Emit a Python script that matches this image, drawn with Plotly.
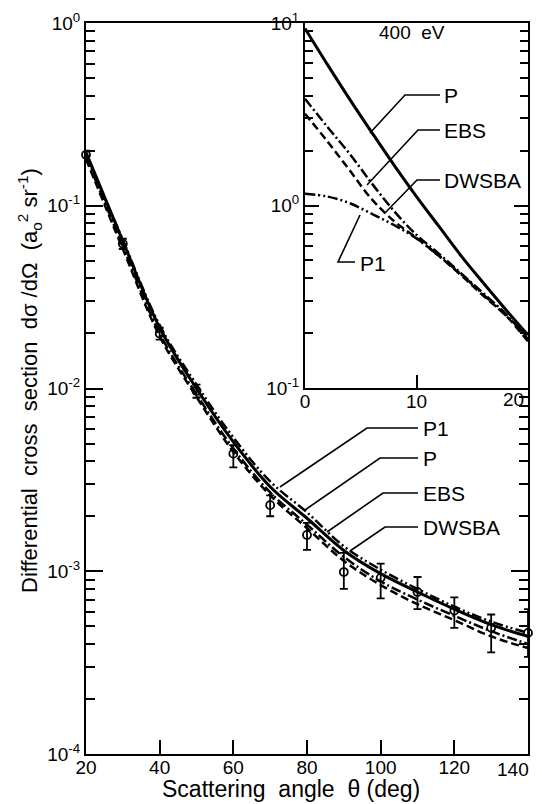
import plotly.graph_objects as go

# ---------------- data ----------------
theta = [20, 30, 40, 50, 60, 70, 80, 90, 100, 110, 120, 130, 140]
P_main = [0.196, 0.064, 0.0215, 0.0100, 0.0051, 0.0029, 0.00195, 0.00130, 0.00097, 0.00077, 0.00062, 0.00051, 0.00044]
P1_main = [0.190, 0.065, 0.0222, 0.0105, 0.0054, 0.0031, 0.00210, 0.00137, 0.00102, 0.00080, 0.00064, 0.00053, 0.00046]
DWSBA_main = [0.185, 0.060, 0.0200, 0.0093, 0.0047, 0.0027, 0.00180, 0.00120, 0.00088, 0.00070, 0.00057, 0.00047, 0.00040]
EBS_main = [0.180, 0.058, 0.0193, 0.0090, 0.0045, 0.0026, 0.00172, 0.00114, 0.00084, 0.00066, 0.00054, 0.00044, 0.00038]

exp_theta = [20, 30, 40, 50, 60, 70, 80, 90, 100, 110, 120, 130, 140]
exp_val = [0.19, 0.062, 0.020, 0.0097, 0.0044, 0.0023, 0.00158, 0.00099, 0.00092, 0.00077, 0.00061, 0.00049, 0.00046]
exp_err_plus = [0.010, 0.004, 0.0015, 0.0008, 0.0005, 0.0003, 0.00026, 0.00027, 0.00018, 0.00016, 0.00011, 0.00009, 0.00016]
exp_err_minus = [0.010, 0.004, 0.0015, 0.0008, 0.0007, 0.0003, 0.00027, 0.00019, 0.00021, 0.00015, 0.00012, 0.00013, 0.00012]

theta_in = [0, 2, 4, 6, 8, 10, 12, 14, 16, 18, 20]
P_in = [9.33, 5.93, 3.83, 2.51, 1.66, 1.12, 0.77, 0.53, 0.376, 0.269, 0.195]
P1_in = [1.16, 1.12, 1.03, 0.90, 0.78, 0.66, 0.53, 0.42, 0.325, 0.25, 0.190]
DWSBA_in = [3.84, 2.70, 1.92, 1.32, 0.93, 0.69, 0.545, 0.425, 0.33, 0.255, 0.185]
EBS_in = [3.18, 2.25, 1.56, 1.08, 0.82, 0.665, 0.53, 0.415, 0.32, 0.25, 0.180]

main_ytickvals = [1, 0.1, 0.01, 0.001, 0.0001]
main_yticktext = ["10<sup>0</sup>", "10<sup>-1</sup>", "10<sup>-2</sup>", "10<sup>-3</sup>", "10<sup>-4</sup>"]
main_xtickvals = [20, 40, 60, 80, 100, 120, 140]
main_xticktext = ["20", "40", "60", "80", "100", "120", "140"]
inset_ytickvals = [10, 1, 0.1]
inset_yticktext = ["10<sup>1</sup>", "10<sup>0</sup>", "10<sup>-1</sup>"]
inset_xtickvals = [0, 10, 20]
inset_xticktext = ["0", "10", "20"]

# ---------------- styles ----------------
FONT = "Liberation Sans, Arial, sans-serif"
styles = {
    "P": dict(color="black", width=3.0, dash="solid"),
    "EBS": dict(color="black", width=2.5, dash="8px,4px"),
    "DWSBA": dict(color="black", width=2.5, dash="10px,3px,2px,3px"),
    "P1": dict(color="black", width=2.5, dash="10px,3px,2px,3px,2px,3px"),
}

fig = go.Figure()
for name, ys in [("EBS", EBS_main), ("DWSBA", DWSBA_main), ("P1", P1_main), ("P", P_main)]:
    fig.add_trace(go.Scatter(x=theta, y=ys, mode="lines", line=dict(shape="spline", smoothing=1.0, **styles[name]),
                             showlegend=False, xaxis="x", yaxis="y"))

fig.add_trace(go.Scatter(
    x=exp_theta, y=exp_val, mode="markers", cliponaxis=False,
    marker=dict(symbol="circle-open", size=8, color="black", line=dict(width=1.8, color="black")),
    error_y=dict(type="data", symmetric=False, array=exp_err_plus, arrayminus=exp_err_minus,
                 color="black", thickness=1.8, width=4),
    showlegend=False, xaxis="x", yaxis="y"))

for name, ys in [("EBS", EBS_in), ("DWSBA", DWSBA_in), ("P1", P1_in), ("P", P_in)]:
    fig.add_trace(go.Scatter(x=theta_in, y=ys, mode="lines", line=dict(shape="spline", smoothing=1.0, **styles[name]),
                             showlegend=False, xaxis="x2", yaxis="y2"))

# ---------------- layout ----------------
# page body has an 8px margin; work in screenshot pixels and shift
OFF = 8
W, H = 542 - OFF, 804 - OFF
L, R, T, B = 86, 528, 23, 754          # plot area in screenshot pixels


def px(x):
    return (x - L) / (R - L)


def py(y):
    return (B - y) / (B - T)


def minor_log(lo, hi):
    vals = []
    for e in range(lo, hi):
        for k in range(2, 10):
            vals.append(k * 10 ** e)
    return vals


axis_font = dict(family=FONT, size=19, color="black")

# last x labels are drawn as annotations so they stay inside the page
main_xticktext_axis = main_xticktext[:-1] + [""]
inset_xticktext_axis = inset_xticktext[:-1] + [""]

fig.update_layout(
    width=W, height=H,
    margin=dict(l=L - OFF, r=542 - R, t=T - OFF, b=804 - B, autoexpand=False),
    paper_bgcolor="white", plot_bgcolor="white",
    font=dict(family=FONT, color="black"),
    xaxis=dict(domain=[0, 1], range=[20, 140], showgrid=False, zeroline=False, automargin=False,
               showline=True, linecolor="black", linewidth=2, mirror=True,
               ticks="inside", ticklen=14, tickwidth=1.8, tickcolor="black",
               tickvals=main_xtickvals, ticktext=main_xticktext_axis, tickfont=axis_font,
               ticklabelstandoff=-5),
    yaxis=dict(domain=[0, 1], type="log", range=[-4, 0], showgrid=False, zeroline=False, automargin=False,
               showline=True, linecolor="black", linewidth=2, mirror="ticks",
               ticks="inside", ticklen=17, tickwidth=1.8, tickcolor="black",
               tickvals=main_ytickvals, ticktext=main_yticktext, tickfont=axis_font,
               minor=dict(ticks="inside", ticklen=9, tickwidth=1.6, tickcolor="black",
                          tickvals=minor_log(-4, 0), showgrid=False)),
    xaxis2=dict(domain=[px(305), 1], anchor="y2", range=[0, 20], showgrid=False, zeroline=False, automargin=False,
                showline=True, linecolor="black", linewidth=2, mirror=True,
                ticks="inside", ticklen=13, tickwidth=1.8, tickcolor="black",
                tickvals=inset_xtickvals, ticktext=inset_xticktext_axis, tickfont=axis_font,
                ticklabelstandoff=-5),
    yaxis2=dict(domain=[py(388), 1], anchor="x2", type="log", range=[-1, 1], showgrid=False, zeroline=False,
                automargin=False,
                showline=True, linecolor="black", linewidth=2, mirror="ticks",
                ticks="inside", ticklen=14, tickwidth=1.8, tickcolor="black",
                tickvals=inset_ytickvals, ticktext=inset_yticktext, tickfont=axis_font,
                minor=dict(ticks="inside", ticklen=8, tickwidth=1.6, tickcolor="black",
                           tickvals=minor_log(-1, 1), showgrid=False)),
)

# white background for inset
fig.add_shape(type="rect", xref="paper", yref="paper", x0=px(305), x1=1, y0=py(388), y1=1,
              fillcolor="white", line=dict(width=0), layer="below")

annotations = []
shapes = []


def label(text, x, y, size=21, anchor="left"):
    annotations.append(dict(text=text, x=px(x), y=py(y), xref="paper", yref="paper",
                            showarrow=False, xanchor=anchor, yanchor="middle",
                            font=dict(family=FONT, size=size, color="black")))


def leader(points):
    path = "M " + " L ".join(f"{px(a):.5f},{py(b):.5f}" for a, b in points)
    shapes.append(dict(type="path", path=path, xref="paper", yref="paper",
                       line=dict(color="black", width=1.6)))


# end-of-axis tick labels
label(main_xticktext[-1], 531, 769, size=19, anchor="right")
label(inset_xticktext[-1], 526, 400, size=19, anchor="right")

# main labels
label("P1", 421, 428)
label("P", 421, 458)
label("EBS", 421, 493)
label("DWSBA", 421, 527)
leader([(418, 428), (367, 428), (280, 487)])
leader([(418, 458), (380, 458), (305, 510)])
leader([(418, 493), (383, 493), (327, 532)])
leader([(418, 527), (385, 527), (350, 551)])

# inset labels
label("400  eV", 412, 33, size=19, anchor="center")
label("P", 442, 95)
label("EBS", 442, 130)
label("DWSBA", 442, 180)
label("P1", 358, 263)
leader([(440, 95), (405, 95), (370, 133)])
leader([(440, 130), (418, 130), (367, 185)])
leader([(440, 180), (417, 180), (385, 213)])
leader([(355, 262), (338, 262), (360, 215)])

# axis titles
annotations.append(dict(text="Differential  cross  section  d\u03c3 /d\u03a9  (a<sub>o</sub><sup>2</sup> sr<sup>-1</sup>)",
                        x=px(29), y=py(381), xref="paper", yref="paper", showarrow=False,
                        textangle=-90, xanchor="center", yanchor="middle",
                        font=dict(family=FONT, size=22, color="black")))
annotations.append(dict(text="Scattering  angle  \u03b8 (deg)", x=px(291), y=py(789), xref="paper", yref="paper",
                        showarrow=False, xanchor="center", yanchor="middle",
                        font=dict(family=FONT, size=23, color="black")))

fig.update_layout(annotations=annotations, shapes=fig.layout.shapes + tuple(shapes))

fig.write_html("out.html")
